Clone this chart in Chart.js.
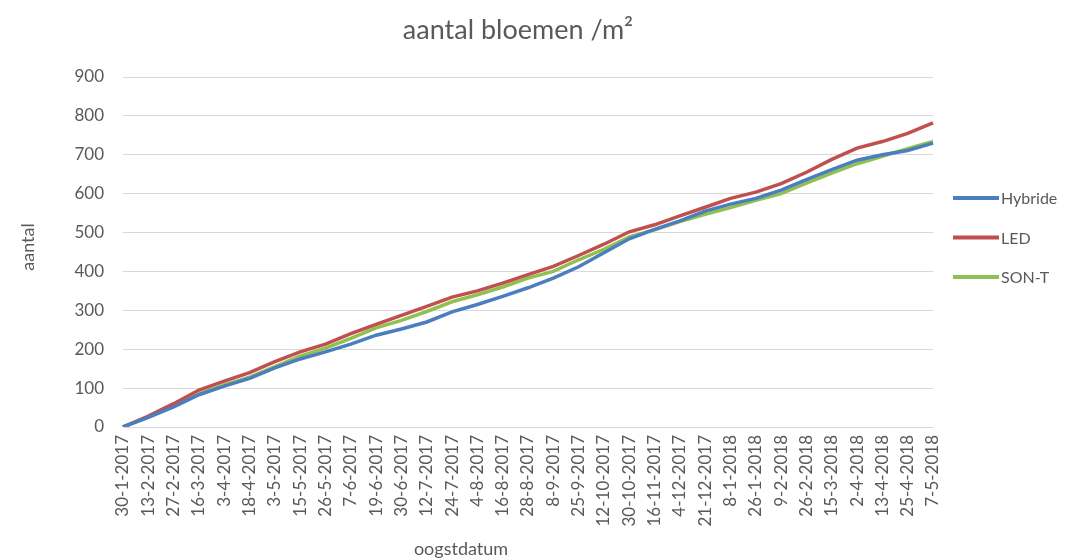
<!DOCTYPE html>
<html>
<head>
<meta charset="utf-8">
<script src="https://cdn.jsdelivr.net/npm/chart.js@4.4.1/dist/chart.umd.min.js"></script>
<style>
html,body{margin:0;padding:0;background:#ffffff;}
#wrap{width:1066px;height:560px;position:relative;}
</style>
</head>
<body>
<div id="wrap"><canvas id="c" width="1066" height="560"></canvas></div>
<script>
const categories = [
  "30-1-2017","13-2-2017","27-2-2017","16-3-2017","3-4-2017","18-4-2017","3-5-2017",
  "15-5-2017","26-5-2017","7-6-2017","19-6-2017","30-6-2017","12-7-2017","24-7-2017",
  "4-8-2017","16-8-2017","28-8-2017","8-9-2017","25-9-2017","12-10-2017","30-10-2017",
  "16-11-2017","4-12-2017","21-12-2017","8-1-2018","26-1-2018","9-2-2018","26-2-2018",
  "15-3-2018","2-4-2018","13-4-2018","25-4-2018","7-5-2018"
];
const hybride = [0,25,52,83,105,125,152,175,193,213,236,252,270,296,315,336,358,383,412,448,484,508,530,555,573,588,609,636,662,686,700,711,730];
const led     = [0,28,60,95,118,140,168,193,213,240,264,287,310,334,350,370,392,413,441,470,502,520,543,565,588,604,626,655,688,717,734,755,782];
const sonT    = [0,26,53,85,108,128,155,182,203,228,255,274,297,322,340,360,383,400,430,457,489,507,528,547,564,583,600,627,653,677,696,716,734];
const seriesNames = ["Hybride","LED","SON-T"];
const yTicks = [0,100,200,300,400,500,600,700,800,900];
const titleText = "aantal bloemen /m\u00B2";
const yTitle = "aantal";
const xTitle = "oogstdatum";

const TXT = '#595959';
const FONT = 'Lato, "Open Sans", sans-serif';

const textPlugin = {
  id: 'textPlugin',
  afterDraw(chart) {
    const ctx = chart.ctx;
    ctx.save();
    ctx.fillStyle = TXT;
    // chart title
    ctx.font = '27px ' + FONT;
    ctx.textAlign = 'center';
    ctx.textBaseline = 'alphabetic';
    ctx.fillText(titleText, 518, 39);
    // x axis title
    ctx.font = '18px ' + FONT;
    ctx.textBaseline = 'middle';
    ctx.fillText(xTitle, 461, 549);
    // y axis title
    ctx.save();
    ctx.translate(28, 247);
    ctx.rotate(-Math.PI / 2);
    ctx.fillText(yTitle, 0, 0);
    ctx.restore();
    // legend
    ctx.font = '16px ' + FONT;
    ctx.textAlign = 'left';
    chart.data.datasets.forEach((ds, i) => {
      const y = 198 + i * 39.5;
      ctx.strokeStyle = ds.borderColor;
      ctx.lineWidth = 4;
      ctx.lineCap = 'butt';
      ctx.beginPath();
      ctx.moveTo(953, y);
      ctx.lineTo(999, y);
      ctx.stroke();
      ctx.fillStyle = TXT;
      ctx.fillText(ds.label, 1001, y + 1);
    });
    ctx.restore();
  }
};

const colors = ['#4A7EBF', '#C0504D', '#92C050'];
const seriesData = [hybride, led, sonT];

new Chart(document.getElementById('c'), {
  type: 'line',
  data: {
    labels: categories,
    datasets: seriesData.map((d, i) => ({
      label: seriesNames[i],
      data: d,
      borderColor: colors[i],
      backgroundColor: colors[i],
      borderWidth: 3.5,
      pointRadius: 0,
      tension: 0,
      fill: false
    }))
  },
  options: {
    responsive: false,
    animation: false,
    devicePixelRatio: 1,
    layout: { padding: { left: 0, right: 133, top: 77, bottom: 0 } },
    plugins: {
      legend: { display: false },
      title: { display: false },
      tooltip: { enabled: false }
    },
    scales: {
      x: {
        type: 'category',
        offset: false,
        grid: { display: false, drawTicks: false },
        border: { display: true, color: '#D9D9D9', width: 1 },
        ticks: {
          autoSkip: false,
          minRotation: 90,
          maxRotation: 90,
          padding: 8,
          color: TXT,
          font: { family: FONT, size: 17 }
        },
        afterFit(scale) { scale.height = 133; }
      },
      y: {
        min: 0,
        max: 900,
        afterBuildTicks(scale) { scale.ticks = yTicks.map(v => ({ value: v })); },
        grid: { color: '#D9D9D9', lineWidth: 1, drawTicks: false },
        border: { display: false },
        ticks: {
          padding: 19,
          color: TXT,
          font: { family: FONT, size: 17 }
        },
        afterFit(scale) { scale.width = 123; }
      }
    }
  },
  plugins: [textPlugin]
});
</script>
</body>
</html>
